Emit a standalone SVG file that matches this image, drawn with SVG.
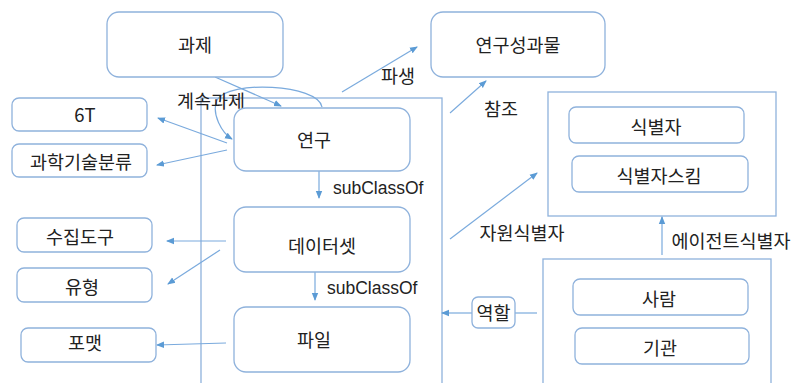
<svg xmlns="http://www.w3.org/2000/svg" width="795" height="383" viewBox="0 0 795 383">
<defs>
<marker id="ah" markerWidth="8" markerHeight="8" refX="7" refY="4" orient="auto" markerUnits="userSpaceOnUse">
<path d="M0,0.8 L8,4 L0,7.2 Z" fill="#5b9bd5"/>
</marker>
<style>
.box{fill:#fff;stroke:#8fb2dc;stroke-width:1.3}
.cont{fill:none;stroke:#8fb2dc;stroke-width:1.3}
.t{font-family:"Noto Sans CJK KR","Liberation Sans",sans-serif;font-size:18.5px;fill:#222;text-anchor:middle;dominant-baseline:central}
.l{font-family:"Liberation Sans","Noto Sans CJK KR",sans-serif;font-size:17.5px;fill:#222;dominant-baseline:central}
.c{fill:none;stroke:#7aaadd;stroke-width:1.2}
.a{fill:none;stroke:#7aaadd;stroke-width:1.2;marker-end:url(#ah)}
</style>
</defs>
<rect width="795" height="383" fill="#fff"/>

<g id="containers">
<rect class="cont" x="201" y="98" width="241" height="300"/>
<rect class="cont" x="548" y="92" width="228" height="124"/>
<rect class="cont" x="543" y="259" width="228" height="140"/>
</g>

<g id="connectors">
<path class="a" d="M215,77 L281,106"/>
<path class="a" d="M322,107 C318,84 228,80 217,100 C211,114 222,133 232,139"/>
<path class="a" d="M227,143 L158,118"/>
<path class="a" d="M227,150 L157,165"/>
<path class="a" d="M342,92 L417,47"/>
<path class="a" d="M450,113 L486,81"/>
<path class="a" d="M319,171 L319,198"/>
<path class="a" d="M226,241 L167,241"/>
<path class="a" d="M220,250 L168,284"/>
<path class="a" d="M315,272 L315,300"/>
<path class="a" d="M226,343 L157,345"/>
<path class="a" d="M450,239 L537,173"/>
<path class="a" d="M662,255 L662,217"/>
<path class="c" d="M537,313 L515,313"/>
<path class="a" d="M472,313 L442,313"/>
</g>

<g id="edge-labels">
<text class="t" x="211" y="100">계속과제</text>
<text class="t" x="398" y="75">파생</text>
<text class="t" x="501" y="108">참조</text>
<text class="l" x="333" y="188">subClassOf</text>
<text class="l" x="327" y="288">subClassOf</text>
<text class="t" x="522" y="232">자원식별자</text>
<text class="t" x="731" y="240">에이전트식별자</text>
</g>

<g id="n-role"><rect class="box" x="472" y="297" width="43" height="31" rx="6"/><text class="t" x="493.5" y="312">역할</text></g>

<g id="n-gwaje"><rect class="box" x="107" y="12" width="176" height="65" rx="12"/><text class="t" x="195" y="44">과제</text></g>
<g id="n-result"><rect class="box" x="431" y="12" width="174" height="65" rx="12"/><text class="t" x="518" y="44">연구성과물</text></g>
<g id="n-6t"><rect class="box" x="12" y="98" width="135" height="33" rx="7"/><text class="t" x="85" y="114">6T</text></g>
<g id="n-class"><rect class="box" x="12" y="144" width="135" height="33" rx="7"/><text class="t" x="81" y="161">과학기술분류</text></g>
<g id="n-research"><rect class="box" x="234" y="108" width="176" height="63" rx="12"/><text class="t" x="314" y="139">연구</text></g>
<g id="n-dataset"><rect class="box" x="234" y="207" width="176" height="65" rx="12"/><text class="t" x="322" y="245">데이터셋</text></g>
<g id="n-file"><rect class="box" x="234" y="307" width="176" height="65" rx="12"/><text class="t" x="314" y="339">파일</text></g>
<g id="n-tool"><rect class="box" x="17" y="218" width="135" height="34" rx="7"/><text class="t" x="80" y="236">수집도구</text></g>
<g id="n-type"><rect class="box" x="17" y="268" width="135" height="34" rx="7"/><text class="t" x="82" y="286">유형</text></g>
<g id="n-format"><rect class="box" x="21" y="328" width="135" height="34" rx="7"/><text class="t" x="85" y="342">포맷</text></g>
<g id="n-id"><rect class="box" x="569" y="107" width="175" height="36" rx="7"/><text class="t" x="656" y="126">식별자</text></g>
<g id="n-scheme"><rect class="box" x="572" y="156" width="176" height="36" rx="7"/><text class="t" x="659" y="175">식별자스킴</text></g>
<g id="n-person"><rect class="box" x="573" y="279" width="175" height="36" rx="7"/><text class="t" x="659" y="298">사람</text></g>
<g id="n-org"><rect class="box" x="575" y="328" width="174" height="36" rx="7"/><text class="t" x="660" y="347">기관</text></g>
</svg>
